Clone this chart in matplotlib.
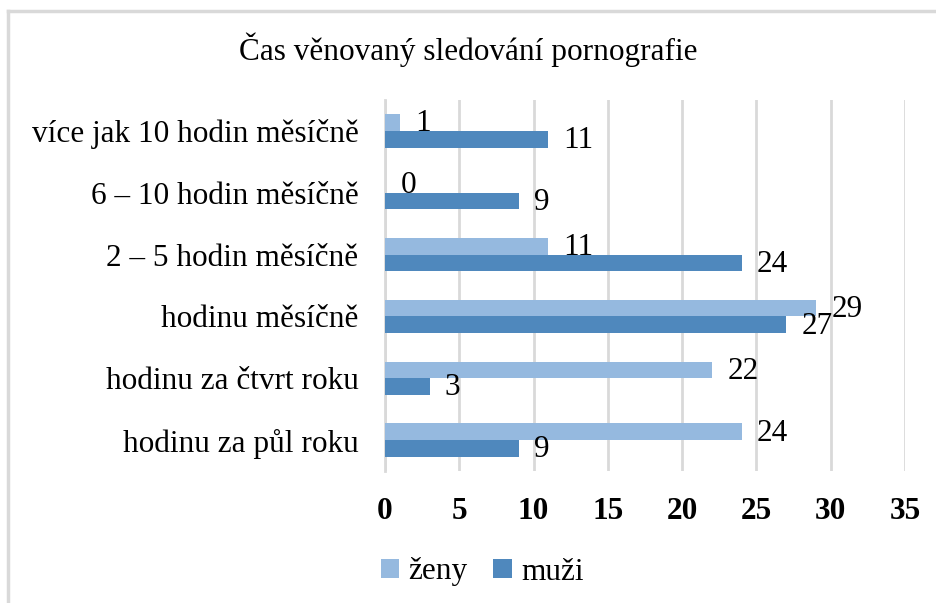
import numpy as np
import matplotlib.pyplot as plt
from matplotlib.lines import Line2D

# data (top to bottom)
categories = ["více jak 10 hodin měsíčně", "6 – 10 hodin měsíčně", "2 – 5 hodin měsíčně",
              "hodinu měsíčně", "hodinu za čtvrt roku", "hodinu za půl roku"]
zeny = [1, 0, 11, 29, 22, 24]
muzi = [11, 9, 24, 27, 3, 9]
x_ticks = [0, 5, 10, 15, 20, 25, 30, 35]

plt.rcParams['font.family'] = ['Liberation Serif', 'DejaVu Serif']

color_zeny = "#95b9df"
color_muzi = "#4f88bd"
fs = 22.5

fig = plt.figure(figsize=(9.37, 6.03), dpi=100)
ax = fig.add_axes([385 / 937, 1 - 471 / 603, 520 / 937, 371 / 603])

y = np.arange(len(categories))[::-1].astype(float)
h = 0.27
ax.barh(y + h / 2, zeny, height=h, color=color_zeny, label="ženy", zorder=3)
ax.barh(y - h / 2, muzi, height=h, color=color_muzi, label="muži", zorder=3)

# value labels just right of each bar end
for yi, v in zip(y, zeny):
    ax.annotate(str(v), (v, yi + h / 2), xytext=(11, -1), textcoords="offset points",
                va="center", ha="left", fontsize=fs)
for yi, v in zip(y, muzi):
    ax.annotate(str(v), (v, yi - h / 2), xytext=(11, -1), textcoords="offset points",
                va="center", ha="left", fontsize=fs)

ax.set_xlim(0, 35)
ax.set_ylim(-0.5, len(categories) - 0.5)
ax.set_xticks(x_ticks)
ax.set_xticklabels([str(t) for t in x_ticks], fontsize=fs, fontweight="bold")
ax.set_yticks(y)
ax.set_yticklabels(categories, fontsize=fs)
ax.tick_params(axis="both", length=0)
ax.tick_params(axis="x", pad=19)
ax.tick_params(axis="y", pad=19)
ax.grid(axis="x", color="#d9d9d9", linewidth=2, zorder=0)
for s in ["top", "right", "bottom"]:
    ax.spines[s].set_visible(False)
ax.spines["left"].set_color("#d9d9d9")
ax.spines["left"].set_linewidth(2)

fig.text(0.5, 1 - 50 / 603, "Čas věnovaný sledování pornografie", ha="center", va="center",
         fontsize=fs)

fig.legend(loc="center", bbox_to_anchor=(482 / 937, 1 - 572 / 603), ncol=2, frameon=False,
           fontsize=fs, handlelength=0.6, handleheight=0.6, handletextpad=0.3, columnspacing=0.8)

# outer chart frame (top and left edges visible)
fig.add_artist(Line2D([8 / 937, 8 / 937], [0, 1 - 11 / 603], color="#d9d9d9", linewidth=2.5,
                      transform=fig.transFigure))
fig.add_artist(Line2D([8 / 937, 1], [1 - 11 / 603, 1 - 11 / 603], color="#d9d9d9", linewidth=2.5,
                      transform=fig.transFigure))

plt.savefig("out.png", dpi=100)
